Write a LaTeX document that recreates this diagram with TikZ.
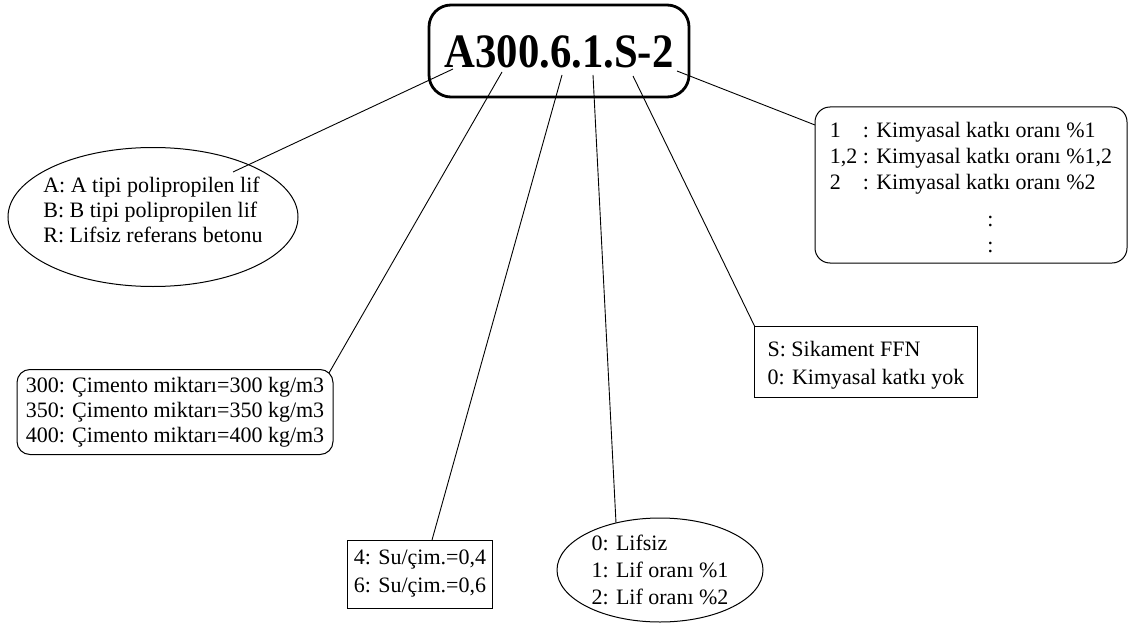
\documentclass[tikz,border=0pt]{standalone}
\usepackage{fontspec}
\setmainfont{Liberation Serif}
\usepackage{graphicx}
\usetikzlibrary{shapes.geometric}
\tikzstyle{code}=[
	rectangle,
	draw,
	rounded corners=22pt,
	line width=2.8pt,
	minimum width=260pt,
	minimum height=92pt,
	inner sep=0pt,
	font=\fontsize{48}{56}\selectfont\bfseries
]
\tikzstyle{legend}=[
	rectangle,
	draw,
	line width=1pt,
	inner sep=0pt,
	align=left,
	font=\fontsize{22}{25}\selectfont
]
\tikzstyle{roundlegend}=[legend, rounded corners=13pt]
\tikzstyle{oval}=[legend, ellipse, inner sep=-8pt]
\tikzstyle{pointer}=[
	line width=0.9pt
]

\begin{document}
\begin{tikzpicture}[x=1pt,y=-1pt]
\useasboundingbox (0,0) rectangle (1129,623);
\node [code] (Code) at (559,51) {\raisebox{-1pt}[\height][\depth]{\scalebox{0.89}[1]{A300.6.1.S-2}}};
\coordinate (pA) at (453,69);
\coordinate (p300) at (502,72);
\coordinate (p6) at (562,75);
\coordinate (p1) at (593,75);
\coordinate (pS) at (633,76);
\coordinate (p2) at (677,71);

\node [oval, minimum width=290pt, minimum height=139pt] (Fiber) at (153,217)
	{\raisebox{5pt}[\height][\depth]{\begin{tabular}{@{}l@{}}
	A: A tipi polipropilen lif\\B: B tipi polipropilen lif\\R: Lifsiz referans betonu
	\end{tabular}}};
\node [roundlegend, minimum width=316pt, minimum height=85pt] (Cement) at (175,412)
	{300: Çimento miktarı=300 kg/m3\\350: Çimento miktarı=350 kg/m3\\400: Çimento miktarı=400 kg/m3};
\node [legend, minimum width=145pt, minimum height=68pt, font=\fontsize{22}{28}\selectfont] (Water) at (420,574)
	{4: Su/çim.=0,4\\6: Su/çim.=0,6};
\node [oval, minimum width=206pt, minimum height=104pt, font=\fontsize{22}{27}\selectfont] (Ratio) at (660,570)
	{0: Lifsiz\\1: Lif oranı \%1\\2: Lif oranı \%2};
\node [legend, minimum width=223pt, minimum height=71pt, font=\fontsize{22}{28}\selectfont] (Admix) at (866,362)
	{\raisebox{-3pt}[\height][\depth]{\begin{tabular}{@{}l@{}}
	S: Sikament FFN\\0: Kimyasal katkı yok
	\end{tabular}}};
\node [roundlegend, rounded corners=15pt, minimum width=312pt, minimum height=156pt, font=\fontsize{22}{26}\selectfont] (Dosage) at (971,185)
	{\raisebox{-5pt}[\height][\depth]{\begin{tabular}{@{}l@{ }l@{}}
	1 & : Kimyasal katkı oranı \%1\\
	1,2 & : Kimyasal katkı oranı \%1,2\\
	2 & : Kimyasal katkı oranı \%2\\[11pt]
	& \multicolumn{1}{c@{}}{:}\\
	& \multicolumn{1}{c@{}}{:}
	\end{tabular}}};

\coordinate (eFiber) at (233,172);
\coordinate (eCement) at (329,373);
\coordinate (eWater) at (432,540);
\coordinate (eRatio) at (616,523);
\coordinate (eAdmix) at (755,327);
\coordinate (eDosage) at (815,125);

\draw [pointer] (pA) -- (eFiber);
\draw [pointer] (p300) -- (eCement);
\draw [pointer] (p6) -- (eWater);
\draw [pointer] (p1) -- (eRatio);
\draw [pointer] (pS) -- (eAdmix);
\draw [pointer] (p2) -- (eDosage);
\end{tikzpicture}
\end{document}
